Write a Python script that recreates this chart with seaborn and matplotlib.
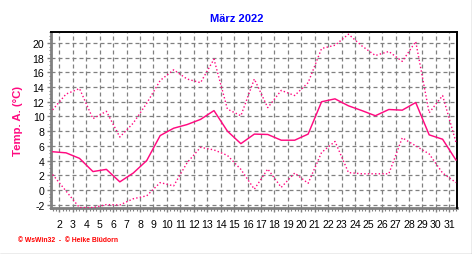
import numpy as np
import pandas as pd
import matplotlib
matplotlib.use("Agg")
import matplotlib.pyplot as plt
import seaborn as sns
from matplotlib.ticker import MultipleLocator, FixedLocator

# ---- data ----
days = list(range(1, 32))
t_mean = [5.2, 5.05, 4.3, 2.5, 2.8, 1.1, 2.3, 4.0, 7.4, 8.4, 8.9, 9.6, 10.8, 8.0, 6.3, 7.6,
          7.55, 6.77, 6.77, 7.6, 12.0, 12.4, 11.45, 10.8, 10.1, 10.95, 10.86, 11.9, 7.5, 6.9, 4.05]
t_max = [10.9, 13.05, 13.8, 9.7, 10.7, 7.2, 9.1, 11.8, 14.9, 16.35, 15.1, 14.6, 17.8, 11.0, 10.1, 15.1,
         11.2, 13.55, 12.85, 14.6, 19.25, 19.7, 21.2, 19.6, 18.3, 18.85, 17.5, 20.2, 10.5, 12.85, 6.45]
t_min = [2.1, -0.15, -2.4, -2.4, -2.0, -2.05, -1.2, -0.8, 1.0, 0.55, 3.7, 5.8, 5.45, 4.7, 2.8, 0.1,
         2.85, 0.35, 2.3, 0.9, 5.1, 6.6, 2.36, 2.2, 2.2, 2.2, 7.1, 6.0, 4.9, 2.3, 1.0]
x_ticks = list(range(2, 32))
y_ticks = list(range(-2, 21, 2))
title = "März 2022"
y_label = "Temp. A. (°C)"
footer = "© WsWin32  -  © Heike Blüdorn"

sns.set_theme(style="white")
plt.rcParams["font.family"] = ["Liberation Sans", "DejaVu Sans"]

line_color = "#ff0a80"
df = pd.DataFrame({"pos": np.array(days) + 0.5, "mean": t_mean, "max": t_max, "min": t_min})

W, H = 472, 255
fig = plt.figure(figsize=(W / 100, H / 100), dpi=100)
L, R, T, B = 50.7, 457.0, 33.0, 209.3
ax = fig.add_axes([L / W, 1 - B / H, (R - L) / W, (B - T) / H])

sns.lineplot(data=df, x="pos", y="max", ax=ax, color=line_color, lw=1.0,
             linestyle=(0, (1, 1.6)), zorder=3)
sns.lineplot(data=df, x="pos", y="mean", ax=ax, color=line_color, lw=1.05, zorder=3)
sns.lineplot(data=df, x="pos", y="min", ax=ax, color=line_color, lw=1.0,
             linestyle=(0, (1, 1.6)), zorder=3)

ax.set_xlim(1.36, 31.57)
ax.set_ylim(-2.5, 21.5)
ax.xaxis.set_major_locator(FixedLocator(x_ticks))
ax.set_xticklabels([str(d) for d in x_ticks])
ax.yaxis.set_major_locator(FixedLocator(y_ticks))
ax.set_yticklabels([str(v) for v in y_ticks])
ax.xaxis.set_minor_locator(MultipleLocator(0.25))
ax.yaxis.set_minor_locator(MultipleLocator(0.5))

ax.grid(True, which="major", color="#808080", linestyle=(0, (3.2, 2.4)), lw=0.9, zorder=1)
ax.set_xlabel("")
ax.set_ylabel(y_label, color=line_color, fontsize=8.2, fontweight="bold")
ax.yaxis.set_label_coords(-0.068, 0.5)

ax.tick_params(axis="both", which="major", labelsize=7.6, colors="#808080",
               labelcolor="black", length=3, width=1)
ax.tick_params(axis="x", which="major", pad=5)
ax.tick_params(axis="y", which="major", pad=1.5)
ax.tick_params(axis="both", which="minor", length=1.8, width=0.8, colors="#808080")
ax.tick_params(bottom=True, left=True, which="both")

for s in ["left", "bottom"]:
    ax.spines[s].set_color("#808080")
    ax.spines[s].set_linewidth(2.0)
    ax.spines[s].set_zorder(2)
for s in ["top", "right"]:
    ax.spines[s].set_color("black")
    ax.spines[s].set_linewidth(1.4)

fig.text(237 / W, 1 - 18.5 / H, title, color="#0000ff", fontsize=8, fontweight="bold",
         ha="center", va="center")
fig.text(18 / W, 1 - 240.5 / H, footer, color="#ff0000", fontsize=4.9, fontweight="bold",
         ha="left", va="center")

# light grey frame on right and bottom edges
fig.add_artist(plt.Line2D([0, 1], [0.5 / H, 0.5 / H], transform=fig.transFigure, color="#a0a0a0", lw=1))
fig.add_artist(plt.Line2D([1 - 0.5 / W, 1 - 0.5 / W], [0, 1], transform=fig.transFigure, color="#a0a0a0", lw=1))

fig.savefig("out.png", dpi=100)
